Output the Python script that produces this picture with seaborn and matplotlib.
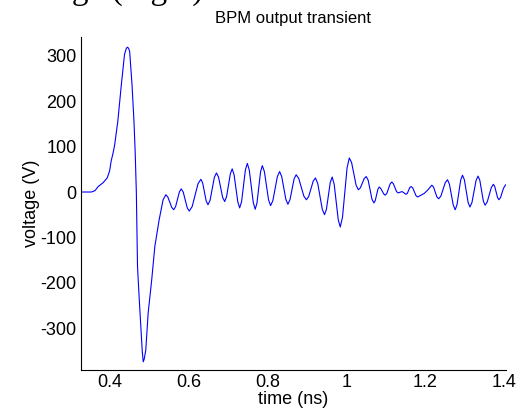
"""BPM output transient plot"""
import matplotlib
matplotlib.use('Agg')
import matplotlib.pyplot as plt
import seaborn as sns
import pandas as pd

# time (ns) and voltage (V)
time_ns = [0.326, 0.353, 0.362, 0.370, 0.382, 0.393, 0.399, 0.403, 0.408, 0.412,
           0.420, 0.429, 0.437, 0.441, 0.444, 0.447, 0.450, 0.456, 0.461, 0.464,
           0.467, 0.468, 0.470, 0.474, 0.479, 0.482, 0.4845, 0.487, 0.491, 0.497,
           0.506, 0.514, 0.525, 0.535, 0.542,
           0.547, 0.557, 0.562, 0.5668, 0.5763, 0.581, 0.5861, 0.5964, 0.6015,
           0.6089, 0.6236, 0.631, 0.6355, 0.6445, 0.649, 0.6544, 0.6651, 0.6705,
           0.6758, 0.6863, 0.6915, 0.6963, 0.7058, 0.7105, 0.7153, 0.7248, 0.7295,
           0.7344, 0.7441, 0.749, 0.754, 0.764, 0.769, 0.7735, 0.7825, 0.787,
           0.7923, 0.8028, 0.808, 0.8138, 0.8253, 0.831, 0.8363, 0.8468, 0.852,
           0.8573, 0.8678, 0.873, 0.8795, 0.8925, 0.899, 0.9048, 0.9163, 0.922,
           0.9278, 0.9393, 0.945, 0.9499, 0.9596, 0.9645, 0.9696, 0.9799, 0.985,
           0.9908, 1.0023, 1.008, 1.0138, 1.0253, 1.031, 1.036, 1.046, 1.051,
           1.0559, 1.0656, 1.0705, 1.0739, 1.0806, 1.084, 1.0878, 1.0953, 1.099,
           1.1033, 1.1118, 1.116, 1.120, 1.128, 1.132, 1.142, 1.152, 1.1553,
           1.1618, 1.165, 1.1691, 1.1774, 1.1815, 1.190, 1.1985, 1.208, 1.2175,
           1.2219, 1.2306, 1.235, 1.2406, 1.2519, 1.2575, 1.2624, 1.2721, 1.277,
           1.2816, 1.2909, 1.2955, 1.3003, 1.3098, 1.3145, 1.3196, 1.3299, 1.335,
           1.3395, 1.3485, 1.353, 1.3583, 1.3688, 1.374, 1.3775, 1.3845, 1.388,
           1.3923, 1.3995, 1.405]
voltage_v = [0, 0, 3, 12, 20, 31, 46, 68, 86, 104,
             156, 237, 303, 315, 319, 317, 310, 237, 156, 90,
             1, -50, -164, -230, -304, -350, -374, -368, -348, -267,
             -194, -120, -61, -17, -6,
             -11, -34, -39, -32, 0, 7, 0, -35, -42,
             -32, 18, 28, 20, -20, -28, -18, 32, 42,
             33, -12, -21, -10, 40, 51, 38, -22, -35,
             -21, 49, 63, 48, -23, -38, -24, 44, 58,
             45, -17, -30, -19, 34, 45, 34, -16, -27,
             -17, 29, 38, 30, -9, -17, -10, 24, 31,
             19, -38, -50, -38, 21, 33, 17, -61, -77,
             -55, 53, 75, 65, 15, 5, 9, 30, 34,
             26, -16, -24, -19, 6, 11, 8, -4, -7,
             -3, 18, 22, 18, 1, -2, 1, -5, -3,
             10, 12, 9, -8, -11, -7, -3, 5, 15,
             11, -11, -15, -9, 21, 27, 17, -29, -39,
             -28, 26, 37, 27, -23, -33, -23, 25, 35,
             26, -20, -29, -22, 10, 17, 12, -12, -17,
             -12, 8, 16]

x_ticks = [0.4, 0.6, 0.8, 1.0, 1.2, 1.4]
x_tick_labels = ['0.4', '0.6', '0.8', '1', '1.2', '1.4']
y_ticks = [-300, -200, -100, 0, 100, 200, 300]

df = pd.DataFrame({'time': time_ns, 'voltage': voltage_v})

sns.set_theme(style='white')
plt.rcParams['font.family'] = ['Liberation Sans', 'DejaVu Sans']
plt.rcParams['axes.unicode_minus'] = False

fig = plt.figure(figsize=(5.18, 4.12), dpi=100)
ax = fig.add_axes([0.1558, 0.1019, 0.821, 0.809])

sns.lineplot(data=df, x='time', y='voltage', ax=ax, color='#0000ff',
             linewidth=0.8, estimator=None, sort=False)

ax.set_xlim(0.3257, 1.406)
ax.set_ylim(-392, 342)
ax.set_xticks(x_ticks)
ax.set_xticklabels(x_tick_labels)
ax.set_yticks(y_ticks)
ax.tick_params(direction='in', length=3, width=0.8, labelsize=13, pad=3,
               colors='black', labelcolor='black')
sns.despine(ax=ax)
for side in ['left', 'bottom']:
    ax.spines[side].set_color('black')
    ax.spines[side].set_linewidth(0.8)

ax.set_xlabel('time (ns)', fontsize=13, labelpad=0, color='black')
ax.set_ylabel('voltage (V)', fontsize=13, labelpad=0, color='black')
ax.set_title('BPM output transient', fontsize=12, pad=10, color='black')

# clipped line of the surrounding document text
fig.text(212 / 518, 1 + 1 / 412, 'e voltage (Fig.4).', ha='right',
         va='baseline', fontsize=24, family='Liberation Serif', color='black')

fig.savefig('out.png', dpi=100)
